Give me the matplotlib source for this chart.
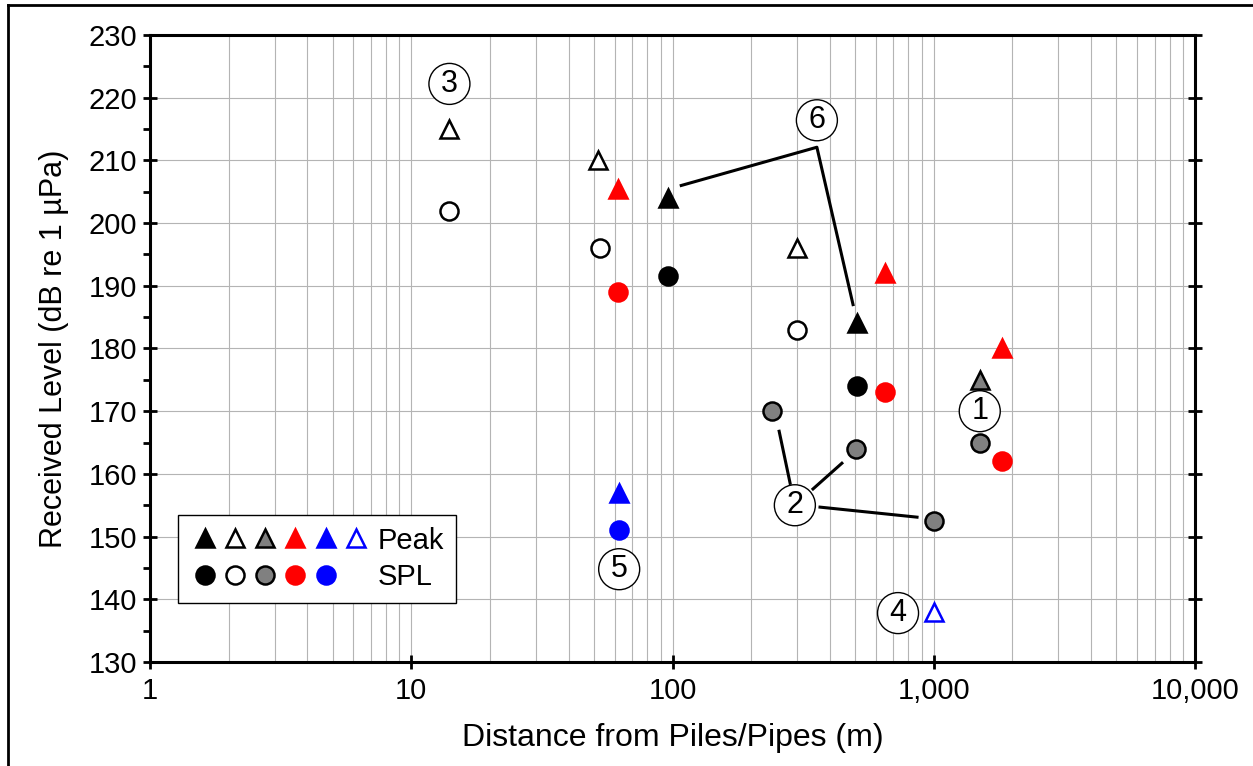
import matplotlib
matplotlib.use('Agg')
import matplotlib.pyplot as plt
from matplotlib.lines import Line2D
from matplotlib.legend_handler import HandlerTuple
from matplotlib.ticker import FixedLocator, MultipleLocator, LogLocator, NullFormatter

plt.rcParams['font.family'] = ['Liberation Sans', 'DejaVu Sans']

# Peak levels (triangles)
peak_black_x = [96, 508]
peak_black_y = [204, 184]
peak_open_x = [14, 52, 300]
peak_open_y = [215, 210, 196]
peak_gray_x = [1500]
peak_gray_y = [175]
peak_red_x = [62, 650, 1830]
peak_red_y = [205.5, 192, 180]
peak_blue_x = [62.5]
peak_blue_y = [157]
peak_blueopen_x = [1000]
peak_blueopen_y = [138]

# SPL levels (circles)
spl_black_x = [96, 508]
spl_black_y = [191.5, 174]
spl_open_x = [14, 53, 300]
spl_open_y = [202, 196, 183]
spl_gray_x = [240, 505, 1000, 1500]
spl_gray_y = [170, 164, 152.5, 165]
spl_red_x = [62, 650, 1830]
spl_red_y = [189, 173, 162]
spl_blue_x = [62.5]
spl_blue_y = [151]

# circled site labels
site_labels = ['1', '2', '3', '4', '5', '6']
site_x = [1500, 294, 14, 730, 62.5, 357]
site_y = [170, 155, 222.2, 137.8, 144.8, 216.4]

xticks = [1, 10, 100, 1000, 10000]
xtick_labels = ['1', '10', '100', '1,000', '10,000']

fig = plt.figure(figsize=(12.53, 7.66), dpi=100)
ax = fig.add_axes([150/1253, 104/766, 1045/1253, 627/766])

# frame around the figure
fig.add_artist(Line2D([8/1253, 8/1253], [0, 1 - 5/766], color='black', lw=2, transform=fig.transFigure))
fig.add_artist(Line2D([8/1253, 1], [1 - 5/766, 1 - 5/766], color='black', lw=2, transform=fig.transFigure))

ms_tri = 13.5
ms_dot = 13
styles = [
    (peak_black_x, peak_black_y, '^', 'black', 'black'),
    (peak_open_x, peak_open_y, '^', 'white', 'black'),
    (peak_gray_x, peak_gray_y, '^', '#808080', 'black'),
    (peak_red_x, peak_red_y, '^', 'red', 'red'),
    (peak_blue_x, peak_blue_y, '^', 'blue', 'blue'),
    (peak_blueopen_x, peak_blueopen_y, '^', 'white', 'blue'),
    (spl_black_x, spl_black_y, 'o', 'black', 'black'),
    (spl_open_x, spl_open_y, 'o', 'white', 'black'),
    (spl_gray_x, spl_gray_y, 'o', '#808080', 'black'),
    (spl_red_x, spl_red_y, 'o', 'red', 'red'),
    (spl_blue_x, spl_blue_y, 'o', 'blue', 'blue'),
]
for x, y, m, fc, ec in styles:
    ms = ms_tri if m == '^' else ms_dot
    ax.plot(x, y, ls='none', marker=m, ms=ms, mfc=fc, mec=ec, mew=1.8, zorder=4)

# leader lines for labels 6 and 2
lc = dict(color='black', lw=2.2, zorder=3)
ax.plot([108, 357, 491], [206, 212.1, 187], **lc)
ax.plot([256, 282], [166.8, 158.5], **lc)
ax.plot([345, 445], [157.6, 161.7], **lc)
ax.plot([367, 863], [154.7, 153.1], **lc)

for s, x, y in zip(site_labels, site_x, site_y):
    ax.text(x, y, s, ha='center', va='center', fontsize=22, zorder=5,
            bbox=dict(boxstyle='circle,pad=0.18', fc='white', ec='black', lw=1))

ax.set_xscale('log')
ax.set_xlim(1, 10000)
ax.set_ylim(130, 230)
ax.xaxis.set_major_locator(FixedLocator(xticks))
ax.set_xticklabels(xtick_labels)
ax.xaxis.set_minor_locator(LogLocator(base=10, subs=range(2, 10)))
ax.xaxis.set_minor_formatter(NullFormatter())
ax.yaxis.set_major_locator(MultipleLocator(10))
ax.yaxis.set_minor_locator(MultipleLocator(5))

ax.grid(which='both', axis='x', color='#b4b4b4', lw=0.8, zorder=0)
ax.grid(which='major', axis='y', color='#b4b4b4', lw=0.8, zorder=0)
ax.set_axisbelow(True)

ax.tick_params(axis='y', which='major', direction='inout', length=10, width=2,
               left=True, right=True, labelsize=21, pad=4)
ax.tick_params(axis='y', which='minor', direction='out', length=5, width=2,
               left=True, right=False)
ax.tick_params(axis='x', which='major', direction='inout', length=10, width=2,
               labelsize=21, pad=6)
ax.tick_params(axis='x', which='minor', length=0)
for sp in ax.spines.values():
    sp.set_linewidth(2.2)

ax.set_xlabel('Distance from Piles/Pipes (m)', fontsize=23, labelpad=13)
ax.set_ylabel('Received Level (dB re 1 \u00b5Pa)', fontsize=22, labelpad=14)

# legend: row of triangles for Peak, row of circles for SPL
peak_h = tuple(Line2D([], [], ls='none', marker='^', ms=ms_tri, mfc=fc, mec=ec, mew=1.8)
               for _, _, m, fc, ec in styles[:6])
spl_h = tuple(Line2D([], [], ls='none', marker='o', ms=ms_dot, mfc=fc, mec=ec, mew=1.8)
              for _, _, m, fc, ec in styles[6:])
spl_h = spl_h + (Line2D([], [], ls='none', marker='None'),)
leg = ax.legend([peak_h, spl_h], ['Peak', 'SPL'],
                handler_map={tuple: HandlerTuple(ndivide=None, pad=0)},
                handlelength=6.2, handletextpad=0.25, labelspacing=0.3,
                loc='lower left', bbox_to_anchor=(0.027, 0.094), borderaxespad=0,
                fontsize=21, frameon=True, fancybox=False, framealpha=1,
                edgecolor='black', borderpad=0.4)
leg.get_frame().set_linewidth(1)
leg.set_zorder(6)

fig.savefig('out.png', dpi=100)
